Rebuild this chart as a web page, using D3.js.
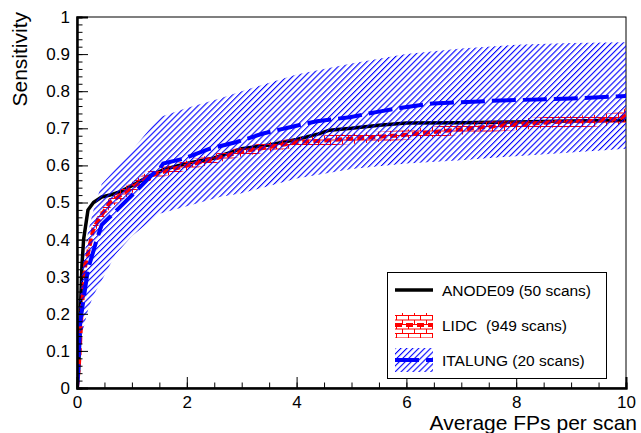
<!DOCTYPE html>
<html>
<head>
<meta charset="utf-8">
<script src="https://cdn.jsdelivr.net/npm/d3@7/dist/d3.min.js"></script>
<style>
  html, body { margin: 0; padding: 0; background: #fff; }
  svg { display: block; }
  text { font-family: "Liberation Sans", Arial, Helvetica, sans-serif; fill: #000; }
</style>
</head>
<body>
<svg id="chart" width="641" height="433"></svg>
<script>
// ---------- data ----------
const xTickValues = [0, 2, 4, 6, 8, 10];
const yTickValues = [0, 0.1, 0.2, 0.3, 0.4, 0.5, 0.6, 0.7, 0.8, 0.9, 1];
const xTickLabels = ["0", "2", "4", "6", "8", "10"];
const yTickLabels = ["0", "0.1", "0.2", "0.3", "0.4", "0.5", "0.6", "0.7", "0.8", "0.9", "1"];
const seriesNames = ["ANODE09 (50 scans)", "LIDC  (949 scans)", "ITALUNG (20 scans)"];

// ANODE09
const anodeX = [0, 0.03, 0.06, 0.09, 0.12, 0.2, 0.3, 0.45, 0.6, 0.8, 1.0, 1.3, 1.6, 2.0, 2.5, 3.0, 3.5, 4.0, 4.4, 4.6, 5.0, 5.5, 6.0, 7.0, 8.0, 9.0, 10];
const anodeY = [0, 0.05, 0.2, 0.33, 0.4, 0.48, 0.5, 0.515, 0.52, 0.53, 0.545, 0.57, 0.59, 0.605, 0.62, 0.645, 0.655, 0.67, 0.685, 0.695, 0.7, 0.708, 0.714, 0.715, 0.717, 0.72, 0.722];

// LIDC
const lidcX = [0, 0.03, 0.05, 0.085, 0.15, 0.21, 0.3, 0.42, 0.6, 0.9, 1.33, 2.0, 2.5, 2.97, 3.5, 4.06, 4.61, 5.2, 5.88, 6.5, 7.16, 7.8, 8.68, 9.4, 9.9, 10];
const lidcY = [0, 0.05, 0.1, 0.21, 0.33, 0.37, 0.43, 0.46, 0.5, 0.53, 0.573, 0.6, 0.618, 0.636, 0.65, 0.663, 0.668, 0.674, 0.681, 0.69, 0.7, 0.708, 0.717, 0.72, 0.727, 0.735];
const lidcErr = [0.01, 0.015, 0.015, 0.015, 0.015, 0.015, 0.015, 0.015, 0.015, 0.015, 0.014, 0.013, 0.013, 0.013, 0.013, 0.013, 0.014, 0.014, 0.014, 0.014, 0.015, 0.015, 0.015, 0.016, 0.017, 0.02];

// ITALUNG
const italX = [0, 0.02, 0.06, 0.12, 0.2, 0.36, 0.45, 0.66, 1.03, 1.39, 1.5, 1.57, 1.94, 2.42, 2.91, 3.39, 3.88, 4.37, 4.97, 5.5, 5.88, 6.48, 7.7, 9.0, 10];
const italY = [0, 0.04, 0.18, 0.24, 0.32, 0.4, 0.44, 0.47, 0.524, 0.578, 0.59, 0.605, 0.618, 0.645, 0.663, 0.686, 0.703, 0.719, 0.73, 0.745, 0.755, 0.767, 0.775, 0.78, 0.787];
const italBandX = [0, 0.1, 0.2, 0.3, 0.45, 0.7, 1.0, 1.5, 2.0, 2.6, 3.0, 4.0, 5.0, 6.0, 7.0, 8.0, 9.0, 10];
const italLow  = [0.08, 0.15, 0.21, 0.25, 0.29, 0.36, 0.41, 0.47, 0.49, 0.515, 0.525, 0.565, 0.59, 0.605, 0.614, 0.625, 0.635, 0.645];
const italHigh = [0.15, 0.33, 0.42, 0.48, 0.55, 0.59, 0.64, 0.73, 0.755, 0.78, 0.8, 0.845, 0.875, 0.9, 0.915, 0.925, 0.93, 0.932];

// ---------- layout ----------
const svg = d3.select("#chart");
const L = 77, R = 626, T = 17, B = 388;
const x = d3.scaleLinear().domain([0, 10]).range([L, R]);
const y = d3.scaleLinear().domain([0, 1]).range([B, T]);

const defs = svg.append("defs");
defs.append("clipPath").attr("id", "plotclip")
  .append("rect").attr("x", L).attr("y", T).attr("width", R - L).attr("height", B - T);

// blue diagonal hatch ("///")
const hatch = defs.append("pattern").attr("id", "bluehatch")
  .attr("patternUnits", "userSpaceOnUse").attr("width", 4.2).attr("height", 20)
  .attr("patternTransform", "rotate(45)");
hatch.append("rect").attr("x", 0).attr("y", 0).attr("width", 1.1).attr("height", 20)
  .style("fill", "#0000ff");

// red brick pattern
const brick = defs.append("pattern").attr("id", "redbrick")
  .attr("patternUnits", "userSpaceOnUse").attr("width", 12).attr("height", 9);
brick.append("path").attr("d", "M0,0.5 H12 M0,5 H12 M0.5,0.5 V5 M6.5,5 V9")
  .style("stroke", "#ff0000").style("stroke-width", 1).style("fill", "none");

// ---------- frame ----------
svg.append("rect").attr("x", L).attr("y", T).attr("width", R - L).attr("height", B - T)
  .attr("fill", "none").attr("stroke", "#000").attr("stroke-width", 1);

const plot = svg.append("g").attr("clip-path", "url(#plotclip)");

const line = d3.line().x(d => x(d[0])).y(d => y(d[1]));
const area = d3.area().x(d => x(d[0])).y0(d => y(d[1])).y1(d => y(d[2]));

// ANODE09
plot.append("path").datum(anodeX.map((v, i) => [v, anodeY[i]]))
  .attr("d", line).attr("fill", "none").attr("stroke", "#000").attr("stroke-width", 3.5)
  .attr("stroke-linejoin", "round");

// LIDC band + line
plot.append("path").datum(lidcX.map((v, i) => [v, lidcY[i] - lidcErr[i], lidcY[i] + lidcErr[i]]))
  .attr("d", area).style("fill", "url(#redbrick)");
plot.append("path").datum(lidcX.map((v, i) => [v, lidcY[i]]))
  .attr("d", line).attr("fill", "none").attr("stroke", "#ff0000").attr("stroke-width", 4)
  .attr("stroke-dasharray", "7,4");

// ITALUNG band + line
plot.append("path").datum(italBandX.map((v, i) => [v, italLow[i], italHigh[i]]))
  .attr("d", area).style("fill", "url(#bluehatch)");
plot.append("path").datum(italX.map((v, i) => [v, italY[i]]))
  .attr("d", line).attr("fill", "none").attr("stroke", "#0000ff").attr("stroke-width", 4)
  .attr("stroke-dasharray", "24,7");

// ---------- axes ----------
const xAxisMajor = d3.axisBottom(x).tickValues(xTickValues)
  .tickFormat((d, i) => xTickLabels[i]).tickSize(-11).tickPadding(8);
const gx = svg.append("g").attr("transform", `translate(0,${B})`).call(xAxisMajor);
const xAxisMinor = d3.axisBottom(x).tickValues(d3.range(0, 10.001, 0.5)).tickFormat("").tickSize(-5.5);
const gx2 = svg.append("g").attr("transform", `translate(0,${B})`).call(xAxisMinor);

const yAxisMajor = d3.axisLeft(y).tickValues(yTickValues)
  .tickFormat((d, i) => yTickLabels[i]).tickSize(-11).tickPadding(7);
const gy = svg.append("g").attr("transform", `translate(${L},0)`).call(yAxisMajor);
const yAxisMinor = d3.axisLeft(y).tickValues(d3.range(0, 1.0001, 0.02)).tickFormat("").tickSize(-5.5);
const gy2 = svg.append("g").attr("transform", `translate(${L},0)`).call(yAxisMinor);

[gx, gx2, gy, gy2].forEach(g => {
  g.select(".domain").attr("stroke", "#000").attr("stroke-width", 2);
  g.selectAll(".tick line").attr("stroke", "#000").attr("stroke-width", 1);
  g.selectAll("text").attr("font-size", 17).attr("font-family", '"Liberation Sans", Arial, sans-serif').attr("fill", "#000");
});

// axis titles
svg.append("text").attr("x", 637).attr("y", 430).attr("text-anchor", "end")
  .attr("font-size", 21).text("Average FPs per scan");
svg.append("text").attr("transform", "translate(27,12) rotate(-90)").attr("text-anchor", "end")
  .attr("font-size", 21).text("Sensitivity");

// ---------- legend ----------
const lg = svg.append("g");
lg.append("rect").attr("x", 387.5).attr("y", 272.5).attr("width", 219).attr("height", 106)
  .attr("fill", "#fff").attr("stroke", "#000").attr("stroke-width", 1);
const rowsY = [290, 325, 360];
lg.append("line").attr("x1", 395).attr("x2", 433).attr("y1", rowsY[0]).attr("y2", rowsY[0])
  .attr("stroke", "#000").attr("stroke-width", 3.5);
lg.append("rect").attr("x", 395).attr("y", rowsY[1] - 12).attr("width", 38).attr("height", 25)
  .style("fill", "url(#redbrick)");
lg.append("line").attr("x1", 395).attr("x2", 433).attr("y1", rowsY[1]).attr("y2", rowsY[1])
  .attr("stroke", "#ff0000").attr("stroke-width", 4).attr("stroke-dasharray", "7,4");
lg.append("rect").attr("x", 395).attr("y", rowsY[2] - 12).attr("width", 38).attr("height", 24)
  .style("fill", "url(#bluehatch)");
lg.append("line").attr("x1", 395).attr("x2", 433).attr("y1", rowsY[2]).attr("y2", rowsY[2])
  .attr("stroke", "#0000ff").attr("stroke-width", 4).attr("stroke-dasharray", "24,7");

seriesNames.forEach((name, i) => {
  lg.append("text").attr("x", 442).attr("y", rowsY[i]).attr("dy", "0.36em")
    .attr("font-size", 15.5).style("white-space", "pre").text(name);
});
</script>
</body>
</html>
